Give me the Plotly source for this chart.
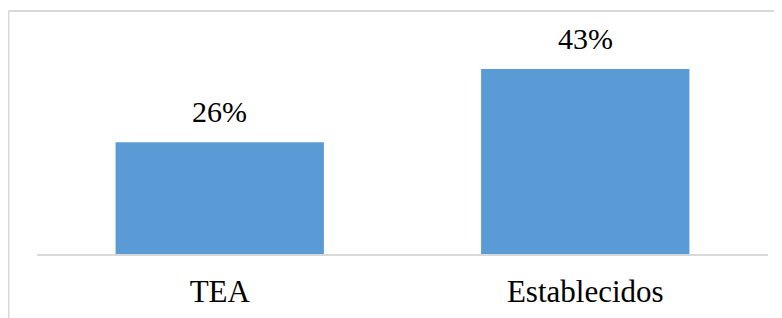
import plotly.graph_objects as go

categories = ["TEA", "Establecidos"]
values = [0.26, 0.43]
labels = ["26%", "43%"]

FONT = "Liberation Serif, Times New Roman, serif"

# page body has an 8px margin, so figure coordinates are offset by 8px
W, H = 782, 318
ml, mt = 29, 31
mr, mb = W - 760, H - 246
pw, ph = W - ml - mr, H - mt - mb

fig = go.Figure(go.Bar(
    x=categories, y=values,
    marker=dict(color="#5b9bd5", line=dict(width=0)),
    hoverinfo="skip",
))

for c, v, t in zip(categories, values, labels):
    fig.add_annotation(x=c, y=v, text=t, showarrow=False, yanchor="bottom",
                       yshift=12, font=dict(family=FONT, size=30, color="#000000"))

# outer chart border (extends past the cropped canvas)
fig.add_shape(type="rect", xref="paper", yref="paper",
              x0=(0.5 - ml) / pw, x1=1.2, y0=-0.6, y1=(H - mb - 3) / ph,
              line=dict(color="#d9d9d9", width=2), fillcolor="rgba(0,0,0,0)", layer="below")

fig.update_layout(
    width=W, height=H,
    margin=dict(l=ml, r=mr, t=mt, b=mb),
    paper_bgcolor="white", plot_bgcolor="white",
    bargap=0.43,
    showlegend=False,
    font=dict(family=FONT, size=30, color="#000000"),
    xaxis=dict(showline=True, linecolor="#d9d9d9", linewidth=2, showgrid=False,
               ticks="", ticklabelstandoff=9,
               tickfont=dict(family=FONT, size=31, color="#000000")),
    yaxis=dict(range=[0, 0.5], visible=False, showgrid=False, zeroline=False),
)

fig.write_html("out.html")
